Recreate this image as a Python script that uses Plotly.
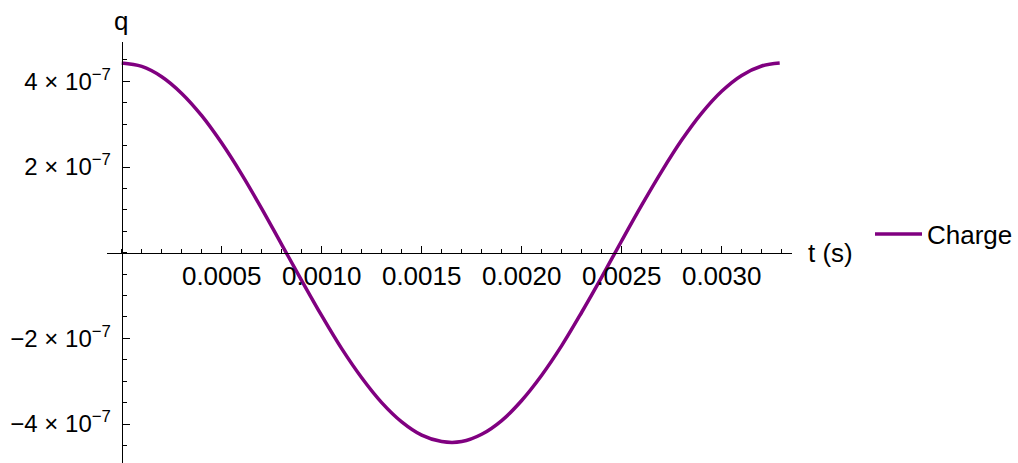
import plotly.graph_objects as go

# Data (t in seconds, q in coulombs)
t_values = [0.0000, 0.0001, 0.0002, 0.0003, 0.0004, 0.0005, 0.0006, 0.0007, 0.0008,
            0.0009, 0.0010, 0.0011, 0.0012, 0.0013, 0.0014, 0.0015, 0.0016, 0.0017,
            0.0018, 0.0019, 0.0020, 0.0021, 0.0022, 0.0023, 0.0024, 0.0025, 0.0026,
            0.0027, 0.0028, 0.0029, 0.0030, 0.0031, 0.0032, 0.00329]
q_e7 = [4.43, 4.35, 4.11, 3.72, 3.20, 2.56, 1.83, 1.03, 0.19,
        -0.65, -1.47, -2.24, -2.92, -3.50, -3.95, -4.26, -4.41, -4.41,
        -4.24, -3.92, -3.45, -2.86, -2.17, -1.39, -0.57, 0.28, 1.11,
        1.90, 2.63, 3.26, 3.77, 4.14, 4.36, 4.43]
q_values = [v * 1e-7 for v in q_e7]

x_tickvals = [0.0005, 0.0010, 0.0015, 0.0020, 0.0025, 0.0030]
x_ticktext = ["0.0005", "0.0010", "0.0015", "0.0020", "0.0025", "0.0030"]
y_tickvals = [-4e-7, -2e-7, 2e-7, 4e-7]
y_ticktext = ["\u22124 \u00d7 10<sup>\u22127</sup>", "\u22122 \u00d7 10<sup>\u22127</sup>",
              "2 \u00d7 10<sup>\u22127</sup>", "4 \u00d7 10<sup>\u22127</sup>"]
series_name = "Charge"
x_title = "t (s)"
y_title = "q"

FONT = "Liberation Sans, Arial, sans-serif"
FS = 26
PURPLE = "#800080"

fig = go.Figure()
fig.add_trace(go.Scatter(
    x=t_values, y=q_values, mode="lines", name=series_name,
    line=dict(color=PURPLE, width=3.5, shape="spline", smoothing=1.0),
))

L, R, T, B = 107, 226, 42, 0
W, H = 1018, 463
pw, ph = W - L - R, H - T - B

fig.update_layout(
    width=W, height=H, autosize=False,
    margin=dict(l=L, r=R, t=T, b=B, pad=0, autoexpand=False),
    paper_bgcolor="white", plot_bgcolor="white",
    font=dict(family=FONT, size=FS, color="black"),
    showlegend=True,
    legend=dict(x=(870 - L) / pw, y=(H - 234) / ph, xanchor="left", yanchor="middle",
                bgcolor="rgba(0,0,0,0)", borderwidth=0, itemwidth=47,
                font=dict(family=FONT, size=FS, color="black")),
    xaxis=dict(
        range=[-0.0000735, 0.0033515], automargin=False,
        anchor="free", position=(H - 252.7) / ph,
        showgrid=False, zeroline=False,
        showline=True, linecolor="black", linewidth=1,
        tickmode="array", tickvals=x_tickvals, ticktext=x_ticktext,
        ticks="inside", ticklen=7, tickcolor="black", tickwidth=1,
        minor=dict(dtick=0.0001, tick0=0, ticks="inside", ticklen=4,
                   tickcolor="black", tickwidth=1, showgrid=False),
        tickfont=dict(family=FONT, size=FS, color="black"),
    ),
    yaxis=dict(
        range=[-4.91e-7, 4.92e-7], automargin=False,
        anchor="free", position=(121.7 - L) / pw,
        showgrid=False, zeroline=False,
        showline=True, linecolor="black", linewidth=1,
        tickmode="array", tickvals=y_tickvals, ticktext=y_ticktext,
        ticks="inside", ticklen=7, tickcolor="black", tickwidth=1,
        ticklabelstandoff=6,
        minor=dict(dtick=0.5e-7, tick0=0, ticks="inside", ticklen=4,
                   tickcolor="black", tickwidth=1, showgrid=False),
        tickfont=dict(family=FONT, size=24, color="black"),
    ),
    annotations=[
        dict(text=y_title, xref="paper", yref="paper",
             x=(120.5 - L) / pw, y=(H - 21) / ph, xanchor="center", yanchor="middle",
             showarrow=False, font=dict(family=FONT, size=FS, color="black")),
        dict(text=x_title, xref="paper", yref="paper",
             x=(806 - L) / pw, y=(H - 253) / ph, xanchor="left", yanchor="middle",
             showarrow=False, font=dict(family=FONT, size=FS, color="black")),
    ],
)

fig.write_html("out.html", config={"displayModeBar": False},
               post_script="document.body.style.margin='0';document.body.style.padding='0';")
